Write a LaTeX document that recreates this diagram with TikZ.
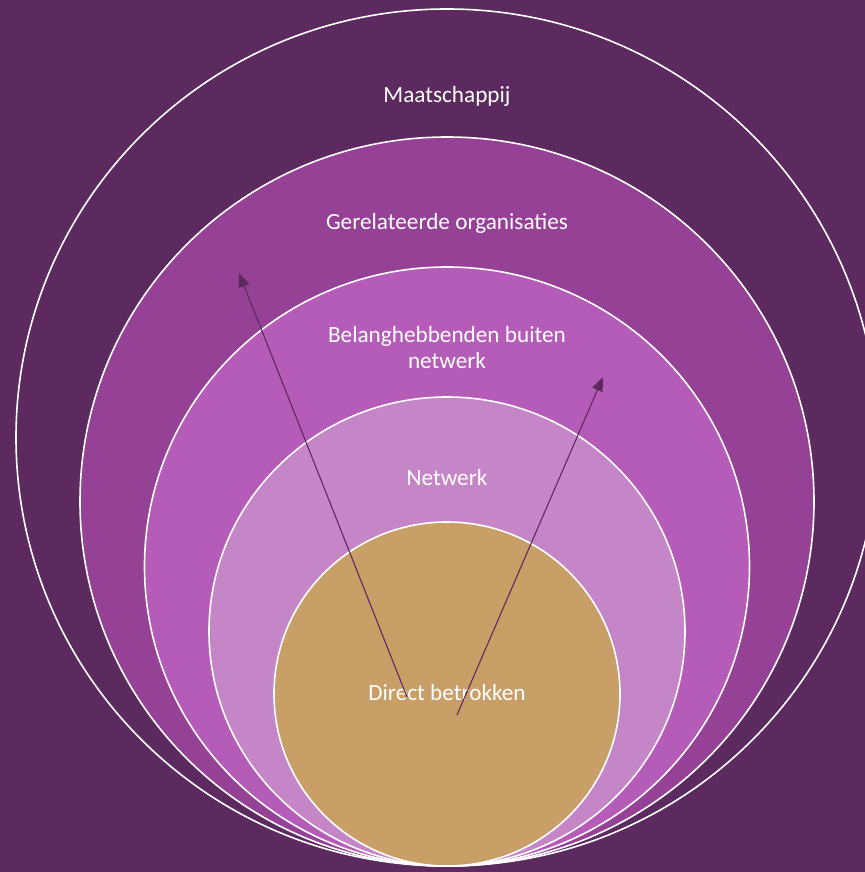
\documentclass[tikz,border=0pt]{standalone}
\usepackage{fontspec}
\setmainfont{Carlito}
\usetikzlibrary{positioning, arrows.meta, shapes.geometric}
\definecolor{bgpurple}{HTML}{5C2A5E}
\definecolor{ringtwo}{HTML}{954195}
\definecolor{ringthree}{HTML}{B55CB8}
\definecolor{ringfour}{HTML}{C586C8}
\definecolor{coretan}{HTML}{C99F68}

\begin{document}
\begin{tikzpicture}[
        x=1bp, y=-1bp,
        ring/.style={ellipse, draw=white, line width=1.6bp, inner sep=0pt},
        ringtext/.style={text=white, font=\fontsize{23.3}{26}\selectfont, align=center, anchor=base},
        push/.style={draw=bgpurple, line width=1.1bp, -{Triangle[length=14bp, width=11bp]}}
    ]
    \useasboundingbox (0,0) rectangle (865,872);
    \fill[bgpurple] (0,0) rectangle (865,872);

    % nested rings, all touching at the bottom
    \begin{scope}
        \clip (0,0) rectangle (865,872);
        \foreach \name/\col/\cy/\rx/\ry in {outer/bgpurple/437.5/431/428.5, related/ringtwo/501.5/367/364.5, stake/ringthree/566.5/302.5/299.5, netw/ringfour/631.5/238/234.5, core/coretan/694/173/172} {
            \node[ring, fill=\col, minimum width=2*\rx bp, minimum height=2*\ry bp] (\name) at (447,\cy) {};
        }
    \end{scope}

    \node[ringtext] (tMaat) at (447,102) {Maatschappij};
    \node[ringtext] (tRelated) at (447,229) {Gerelateerde organisaties};
    \node[ringtext] (tStake) at (447,368) {Belanghebbenden buiten\\netwerk};
    \node[ringtext] (tNetw) at (447,485) {Netwerk};
    \node[ringtext] (tCore) at (447,700.5) {Direct betrokken};

    % influence arrows out of the core
    \coordinate (leftfoot) at (407,697);
    \coordinate (lefttip) at (239,273);
    \coordinate (rightfoot) at (457,715);
    \coordinate (righttip) at (603,377);
    \draw[push] (leftfoot) -- (lefttip);
    \draw[push] (rightfoot) -- (righttip);
\end{tikzpicture}
\end{document}
